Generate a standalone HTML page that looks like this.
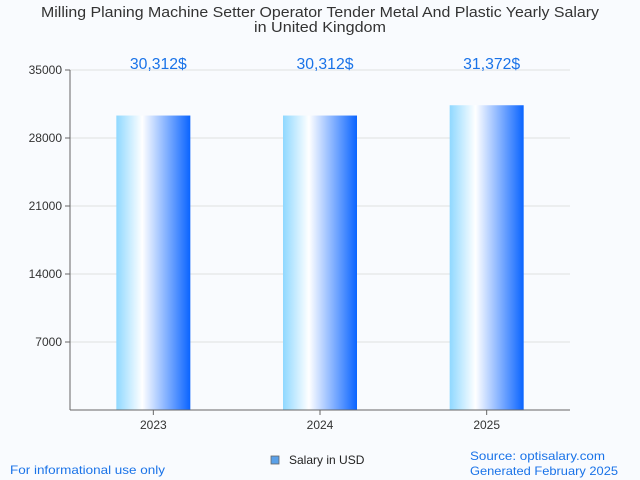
<!DOCTYPE html>
<html><head><meta charset="utf-8"><style>
body{margin:0;background:#f9fbfe;font-family:"Liberation Sans",sans-serif}
svg{display:block}
</style></head><body>
<svg id="c" width="640" height="480">
<defs><linearGradient id="g" x1="0" x2="1" y1="0" y2="0">
<stop offset="0" stop-color="#8fd8ff"/><stop offset="0.35" stop-color="#ffffff"/><stop offset="1" stop-color="#0a64ff"/>
</linearGradient></defs>
<rect width="640" height="480" fill="#f9fbfe"/>
<text x="320" y="17" text-anchor="middle" font-size="15" fill="#333" textLength="558" lengthAdjust="spacingAndGlyphs">Milling Planing Machine Setter Operator Tender Metal And Plastic Yearly Salary</text>
<text x="320" y="32" text-anchor="middle" font-size="15" fill="#333" textLength="132" lengthAdjust="spacingAndGlyphs">in United Kingdom</text>
<g id="grid"></g><g id="bars"></g>
<line x1="70" y1="70" x2="70" y2="410" stroke="#666"/>
<line x1="70" y1="410" x2="570" y2="410" stroke="#666"/>
<rect x="271" y="456" width="8" height="8" fill="#5aa0e8" stroke="#666" stroke-width="0.8"/>
<text x="289" y="464" font-size="12" fill="#222">Salary in USD</text>
<text x="10" y="474" font-size="12" fill="#1a73e8" textLength="155" lengthAdjust="spacingAndGlyphs">For informational use only</text>
<text x="470" y="460" font-size="12" fill="#1a73e8" textLength="135" lengthAdjust="spacingAndGlyphs">Source: optisalary.com</text>
<text x="470" y="475" font-size="12" fill="#1a73e8" textLength="148" lengthAdjust="spacingAndGlyphs">Generated February 2025</text>
</svg>
<script>
const years=["2023","2024","2025"];
const salaries=[30312,30312,31372];
const valueLabels=["30,312$","30,312$","31,372$"];
const yTicks=[7000,14000,21000,28000,35000];
const NS="http://www.w3.org/2000/svg";
const x0=70,x1=570,yTop=70,yBot=410,yMax=35000;
const y=v=>yBot-v/yMax*(yBot-yTop);
const band=(x1-x0)/years.length;
const grid=document.getElementById('grid'),bars=document.getElementById('bars');
function mk(tag,attrs,parent,text){const e=document.createElementNS(NS,tag);for(const k in attrs)e.setAttribute(k,attrs[k]);if(text!==undefined)e.textContent=text;parent.appendChild(e);return e;}
yTicks.forEach(t=>{
  const l=mk('line',{x1:x0,x2:x1,y1:y(t),y2:y(t),stroke:'#e0e0e0'},grid);
  
  
  const tk=mk('line',{x1:x0-5,x2:x0,y1:y(t),y2:y(t),stroke:'#666'},grid);
  
  
  const tx=mk('text',{x:x0-8,y:y(t)+4,'text-anchor':'end','font-size':12,fill:'#333'},grid,String(t));
  
  
});
years.forEach((yr,i)=>{
  const cx=x0+band*(i+0.5),w=74;
  const r=mk('rect',{x:cx-w/2,y:y(salaries[i]),width:w,height:yBot-y(salaries[i]),fill:'url(#g)'},bars);
  
  
  const v=mk('text',{x:cx+5,y:69,'text-anchor':'middle','font-size':16,fill:'#1a73e8',textLength:57,lengthAdjust:'spacingAndGlyphs'},bars,valueLabels[i]);
  
  
  const tk=mk('line',{x1:cx,x2:cx,y1:yBot,y2:yBot+5,stroke:'#666'},bars);
  
  
  const xl=mk('text',{x:cx,y:429,'text-anchor':'middle','font-size':12,fill:'#333'},bars,yr);
  
  
});
</script>
</body></html>
